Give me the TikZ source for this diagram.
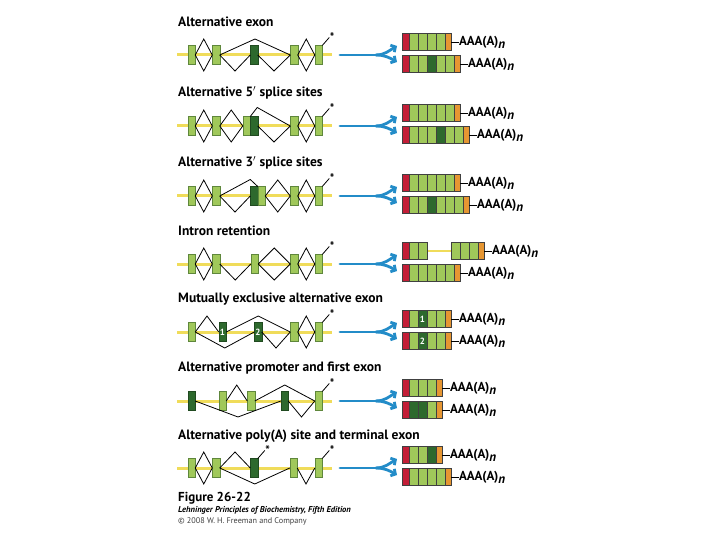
\documentclass[tikz,border=0pt]{standalone}
\usepackage{fontspec}
\setmainfont{PT Sans}
\usetikzlibrary{calc,positioning,arrows.meta}
\definecolor{exlight}{RGB}{160,200,90}
\definecolor{exdark}{RGB}{45,105,45}
\definecolor{exedge}{RGB}{95,135,60}
\definecolor{intron}{RGB}{240,220,90}
\definecolor{capred}{RGB}{195,30,55}
\definecolor{tailor}{RGB}{230,150,50}
\definecolor{arrblue}{RGB}{35,140,200}
\colorlet{lg}{exlight}
\colorlet{dg}{exdark}
\tikzset{
  exon/.style={draw=exedge,fill=exlight,line width=0.5pt,minimum width=7.5pt,minimum height=19pt,inner sep=0pt,outer sep=0pt},
  exondk/.style={exon,draw=exdark!70!black,fill=exdark},
  splice/.style={black,line width=0.8pt},
  gene/.style={draw=intron,line width=3pt},
  fork/.style={draw=arrblue,line width=2.8pt,line cap=round},
  segline/.style={draw=black!75,line width=0.4pt},
  title/.style={anchor=base west,inner sep=0pt,font=\bfseries\fontsize{13.5}{15}\selectfont},
  polya/.style={anchor=west,inner sep=0pt,font=\bfseries\fontsize{13}{15}\selectfont},
  starlbl/.style={inner sep=0pt,font=\bfseries\fontsize{12}{12}\selectfont},
  exnum/.style={text=white,inner sep=0pt,font=\bfseries\fontsize{9}{9}\selectfont}
}
% splice lines above / below the gene
\newcommand\spup[2]{\draw[splice] (#1.east) -- ($(#1.east)!.5!(#2.west)+(0,-16)$) -- (#2.west);}
\newcommand\spdn[2]{\draw[splice] (#1.east) -- ($(#1.east)!.5!(#2.west)+(0,16)$) -- (#2.west);}
\newcommand\polysite[1]{\node[starlbl] (#1s) at ($(#1.north east)+(10,-8)$) {*};
  \draw[splice] (#1.north east) -- ($(#1.north east)+(7,-8)$);}
% blue arrow splitting in two
\newcommand\fork[2]{%
  \coordinate (#1f0) at (340,#2);
  \coordinate (#1f1) at (376,#2);
  \coordinate (#1fu) at (397,#2-9);
  \coordinate (#1fd) at (397,#2+7);
  \draw[fork] (#1f0) -- (#1f1);
  \draw[fork,-{Straight Barb[length=3.5pt,width=8pt]}] (#1f1) .. controls +(9,0) and +(-7,4) .. (#1fu);
  \draw[fork,-{Straight Barb[length=3.5pt,width=8pt]}] (#1f1) .. controls +(9,0) and +(-7,-4) .. (#1fd);
}
% mRNA: name, x, y, segment colours
\newcommand\mrna[4]{%
  \foreach \col [count=\i] in {#4}{%
    \draw[segline,fill=\col] (#2-2+9*\i,#3-8.5) rectangle ++(9,17);
    \xdef\nseg{\i}}
  \draw[segline,fill=capred] (#2,#3-8.5) rectangle ++(7,17);
  \draw[segline,fill=tailor] (#2+7+9*\nseg,#3-8.5) rectangle ++(6,17);
  \coordinate (#1) at (#2+13+9*\nseg,#3);
}
\newcommand\tail[1]{\node[polya,right=8pt of #1] (#1t) {AAA(A)\raisebox{-3pt}{\itshape n}};
  \draw[black,line width=0.9pt] (#1) -- (#1t.west);}

\begin{document}
\begin{tikzpicture}[x=1pt,y=-1pt]
%
\def\ya{55}
\def\yb{126}
\def\yc{196}
\def\yd{264}
\def\ye{332}
\def\yf{401}
\def\yg{468}
%
\fill[white] (0,0) rectangle (720,540);
\useasboundingbox (0,0) rectangle (720,540);
%
% Alternative exon
\node[title] (ta) at (178,27) {Alternative exon};
\draw[gene] (177,\ya) -- (332,\ya);
\node[exon] (a1) at (191.5,\ya) {};
\node[exon] (a2) at (216,\ya) {};
\node[exondk] (a3) at (254,\ya) {};
\node[exon] (a4) at (294,\ya) {};
\node[exon] (a5) at (318.5,\ya) {};
\spup{a1}{a2} \spdn{a1}{a2}
\spup{a2}{a4} \spdn{a2}{a3} \spdn{a3}{a4}
\spup{a4}{a5} \spdn{a4}{a5}
\polysite{a5}
\fork{a}{\ya}
\mrna{am1}{402}{\ya-13}{lg,lg,lg,lg} \tail{am1}
\mrna{am2}{402}{\ya+9}{lg,lg,dg,lg,lg} \tail{am2}
%
% Alternative 5' splice sites
\node[title] (tb) at (178,97) {Alternative 5$'$ splice sites};
\draw[gene] (177,\yb) -- (332,\yb);
\node[exon] (b1) at (191.5,\yb) {};
\node[exon] (b2) at (216,\yb) {};
\node[exon] (b3) at (246.5,\yb) {};
\node[exondk,right=0pt of b3] (b3d) {};
\node[exon] (b4) at (294,\yb) {};
\node[exon] (b5) at (318.5,\yb) {};
\spup{b1}{b2} \spdn{b1}{b2}
\spup{b2}{b3} \spdn{b2}{b3}
\draw[splice] (b3.north east) -- ($(b3.north east)+(7,-9)$) -- (b4.west);
\spdn{b3d}{b4}
\spup{b4}{b5} \spdn{b4}{b5}
\polysite{b5}
\fork{b}{\yb}
\mrna{bm1}{402}{\yb-13}{lg,lg,lg,lg,lg} \tail{bm1}
\mrna{bm2}{402}{\yb+9}{lg,lg,lg,dg,lg,lg} \tail{bm2}
%
% Alternative 3' splice sites
\node[title] (tc) at (178,167) {Alternative 3$'$ splice sites};
\draw[gene] (177,\yc) -- (332,\yc);
\node[exon] (c1) at (191.5,\yc) {};
\node[exon] (c2) at (216,\yc) {};
\node[exondk] (c3) at (254,\yc) {};
\node[exon,right=0pt of c3] (c3l) {};
\node[exon] (c4) at (294,\yc) {};
\node[exon] (c5) at (318.5,\yc) {};
\spup{c1}{c2} \spdn{c1}{c2}
\draw[splice] (c2.east) -- ($(c3.north west)+(0,-7)$) -- (c3l.north west);
\spdn{c2}{c3}
\spup{c3l}{c4} \spdn{c3l}{c4}
\spup{c4}{c5} \spdn{c4}{c5}
\polysite{c5}
\fork{c}{\yc}
\mrna{cm1}{402}{\yc-13}{lg,lg,lg,lg,lg} \tail{cm1}
\mrna{cm2}{402}{\yc+9}{lg,lg,dg,lg,lg,lg} \tail{cm2}
%
% Intron retention
\node[title] (td) at (178,236) {Intron retention};
\draw[gene] (177,\yd) -- (332,\yd);
\node[exon] (d1) at (191.5,\yd) {};
\node[exon] (d2) at (216,\yd) {};
\node[exon] (d3) at (254.5,\yd) {};
\node[exon] (d4) at (294,\yd) {};
\node[exon] (d5) at (318.5,\yd) {};
\spup{d1}{d2} \spdn{d1}{d2}
\spdn{d2}{d3}
\spup{d3}{d4} \spdn{d3}{d4}
\spup{d4}{d5} \spdn{d4}{d5}
\polysite{d5}
\fork{d}{\yd}
\draw[gene,line width=2pt] (427,\yd-13) -- (451,\yd-13);
\draw[segline,fill=capred] (402,\yd-21.5) rectangle ++(7,17);
\foreach \i in {0,1} \draw[segline,fill=lg] (409+9*\i,\yd-21.5) rectangle ++(9,17);
\foreach \i in {0,1,2} \draw[segline,fill=lg] (451+9*\i,\yd-21.5) rectangle ++(9,17);
\draw[segline,fill=tailor] (478,\yd-21.5) rectangle ++(6,17);
\coordinate (dm1) at (484,\yd-13);
\tail{dm1}
\mrna{dm2}{402}{\yd+9}{lg,lg,lg,lg,lg} \tail{dm2}
%
% Mutually exclusive alternative exon
\node[title] (te) at (178,302) {Mutually exclusive alternative exon};
\draw[gene] (177,\ye) -- (332,\ye);
\node[exon] (e1) at (191.5,\ye) {};
\node[exondk] (e2) at (222.5,\ye) {};
\node[exondk] (e3) at (258,\ye) {};
\node[exon] (e4) at (294,\ye) {};
\node[exon] (e5) at (318.5,\ye) {};
\node[exnum] (e2n) at (e2) {1};
\node[exnum] (e3n) at (e3) {2};
\spup{e1}{e2} \spup{e2}{e4}
\spdn{e1}{e3} \spdn{e3}{e4}
\spup{e4}{e5} \spdn{e4}{e5}
\polysite{e5}
\fork{e}{\ye}
\mrna{em1}{402}{\ye-13}{lg,dg,lg,lg} \tail{em1}
\mrna{em2}{402}{\ye+9}{lg,dg,lg,lg} \tail{em2}
\node[exnum] (em1n) at (422.5,\ye-13) {1};
\node[exnum] (em2n) at (422.5,\ye+9) {2};
%
% Alternative promoter and first exon
\node[title] (tf) at (178,371) {Alternative promoter and first exon};
\draw[gene] (177,\yf) -- (332,\yf);
\node[exondk] (f1) at (191.5,\yf) {};
\node[exon] (f2) at (222.5,\yf) {};
\node[exon] (f3) at (251,\yf) {};
\node[exondk] (f4) at (284.5,\yf) {};
\node[exon] (f5) at (318.5,\yf) {};
\spup{f2}{f3} \spup{f3}{f5}
\spdn{f1}{f4} \spdn{f4}{f5}
\polysite{f5}
\fork{f}{\yf}
\mrna{fm1}{402}{\yf-13}{lg,lg,lg} \tail{fm1}
\mrna{fm2}{402}{\yf+9}{dg,dg,lg} \tail{fm2}
%
% Alternative poly(A) site and terminal exon
\node[title] (tg) at (178,439) {Alternative poly(A) site and terminal exon};
\draw[gene] (177,\yg) -- (332,\yg);
\node[exon] (g1) at (191.5,\yg) {};
\node[exon] (g2) at (216,\yg) {};
\node[exondk] (g3) at (254,\yg) {};
\node[exon] (g4) at (293.5,\yg) {};
\node[exon] (g5) at (318.5,\yg) {};
\spup{g1}{g2} \spdn{g1}{g2}
\spup{g2}{g3} \spdn{g2}{g4}
\spdn{g4}{g5}
\polysite{g3} \polysite{g5}
\fork{g}{\yg}
\mrna{gm1}{402}{\yg-13}{lg,lg,dg} \tail{gm1}
\mrna{gm2}{402}{\yg+9}{lg,lg,lg,lg} \tail{gm2}
%
% caption
\node[anchor=base west,inner sep=0pt,font=\bfseries\fontsize{13}{15}\selectfont] (fig) at (178,501) {Figure 26-22};
\node[anchor=base west,inner sep=0pt,font=\bfseries\itshape\fontsize{8.5}{10}\selectfont] (book) at (178,512) {Lehninger Principles of Biochemistry, Fifth Edition};
\node[anchor=base west,inner sep=0pt,text=black!75,font=\fontsize{8.2}{10}\selectfont] (copy) at (178,523) {\textcopyright{} 2008 W. H. Freeman and Company};
%
\end{tikzpicture}
\end{document}
